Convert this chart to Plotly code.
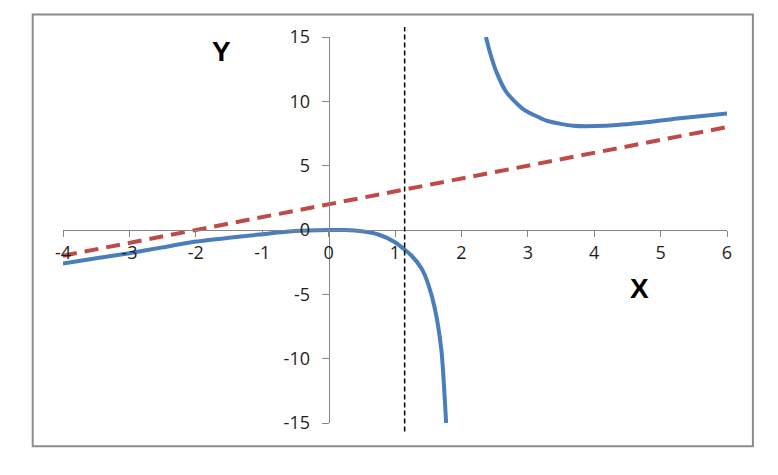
import plotly.graph_objects as go

# Data
blue_left_x = [-4, -3.5, -3, -2.5, -2, -1.5, -1, -0.5, 0, 0.25, 0.5, 0.75, 1, 1.25, 1.4, 1.5, 1.6, 1.7, 1.77]
blue_left_y = [-2.6, -2.2, -1.8, -1.35, -0.9, -0.6, -0.33, -0.08, 0, 0, -0.1, -0.35, -0.95, -2.0, -3.0, -4.2, -6.1, -9.4, -15]

blue_right_x = [2.37, 2.43, 2.53, 2.68, 2.93, 3.28, 3.68, 4.18, 4.79, 5.29, 6.0]
blue_right_y = [15, 13.8, 12.25, 10.7, 9.4, 8.5, 8.1, 8.1, 8.37, 8.68, 9.05]

red_x = [-4, -3, -2, -1, 0, 1, 2, 3, 4, 5, 6]
red_y = [-2, -1, 0, 1, 2, 3, 4, 5, 6, 7, 8]

asymptote_x = 1.145

x_ticks = [-4, -3, -2, -1, 0, 1, 2, 3, 4, 5, 6]
x_tick_labels = ["-4", "-3", "-2", "-1", "0", "1", "2", "3", "4", "5", "6"]
y_ticks = [-15, -10, -5, 0, 5, 10, 15]
y_tick_labels = ["-15", "-10", "-5", "0", "5", "10", "15"]

BLUE = "#4A7EBB"
RED = "#BE4B48"
AXIS = "#868686"
FONT = "Open Sans"

fig = go.Figure()
fig.add_trace(go.Scatter(x=red_x, y=red_y, mode="lines",
                         line=dict(color=RED, width=4, dash="14px,8px"),
                         showlegend=False, hoverinfo="skip"))
fig.add_trace(go.Scatter(x=blue_left_x, y=blue_left_y, mode="lines",
                         line=dict(color=BLUE, width=4, shape="spline", smoothing=0.6),
                         showlegend=False, hoverinfo="skip"))
fig.add_trace(go.Scatter(x=blue_right_x, y=blue_right_y, mode="lines",
                         line=dict(color=BLUE, width=4, shape="spline", smoothing=0.6),
                         showlegend=False, hoverinfo="skip"))

# vertical asymptote (extends a bit beyond the plot area)
fig.add_shape(type="line", xref="x", yref="paper", x0=asymptote_x, x1=asymptote_x,
              y0=-0.022, y1=1.026, line=dict(color="black", width=1.5, dash="5px,3px"))

# outer chart border
fig.add_shape(type="rect", xref="paper", yref="paper", x0=-0.0456, x1=1.039,
              y0=-0.0605, y1=1.058, line=dict(color="#8C8C8C", width=2), layer="below")

fig.add_annotation(x=-1.62, y=13.85, xref="x", yref="y", text="<b>Y</b>", showarrow=False,
                   font=dict(family="Liberation Sans", size=28, color="black"))
fig.add_annotation(x=4.68, y=-4.55, xref="x", yref="y", text="<b>X</b>", showarrow=False,
                   font=dict(family="Liberation Sans", size=28, color="black"))

fig.update_layout(
    width=778, height=475,
    margin=dict(l=63, r=51, t=37, b=52),
    paper_bgcolor="white", plot_bgcolor="white",
    font=dict(family=FONT, size=18, color="#1E1E1E"),
    xaxis=dict(range=[-4, 6], tickvals=x_ticks, ticktext=x_tick_labels, anchor="free", position=0.5,
               showgrid=False, zeroline=False, showline=True, linecolor=AXIS, linewidth=1,
               ticks="outside", ticklen=6, tickcolor=AXIS, fixedrange=True),
    yaxis=dict(range=[-15, 15], tickvals=y_ticks, ticktext=y_tick_labels, anchor="free", position=0.4,
               showgrid=False, zeroline=False, showline=True, linecolor=AXIS, linewidth=1,
               ticks="outside", ticklen=7, tickcolor=AXIS, ticklabelstandoff=8, fixedrange=True),
)

fig.write_html("out.html", config={"displayModeBar": False},
               post_script="document.body.style.margin='0';")
